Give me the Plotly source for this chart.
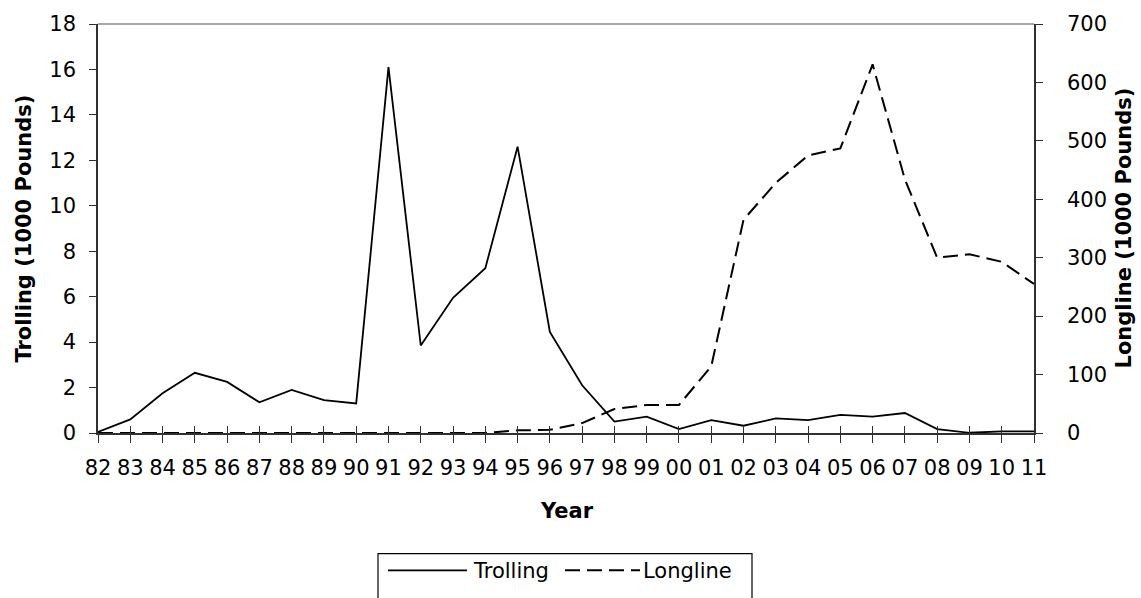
import plotly.graph_objects as go

# category labels (fishing years 1982-2011)
years = ['82', '83', '84', '85', '86', '87', '88', '89', '90', '91',
         '92', '93', '94', '95', '96', '97', '98', '99', '00', '01',
         '02', '03', '04', '05', '06', '07', '08', '09', '10', '11']

# 1000 pounds, left axis
trolling = [0.05, 0.6, 1.75, 2.65, 2.25, 1.35, 1.9, 1.45, 1.3, 16.1,
            3.85, 5.95, 7.25, 12.6, 4.45, 2.1, 0.5, 0.72, 0.17, 0.57,
            0.32, 0.64, 0.57, 0.8, 0.72, 0.88, 0.17, 0.01, 0.07, 0.07]

# 1000 pounds, right axis
longline = [0, 0, 0, 0, 0, 0, 0, 0, 0, 0,
            0, 0, 0, 4.5, 5.5, 17, 41, 48, 48, 114,
            365, 428, 475, 487, 631, 434, 300, 306, 293, 255]

xi = list(range(len(years)))
FONT = "DejaVu Sans, Liberation Sans, Arial, sans-serif"
FS = 21
AX = "#303030"

fig = go.Figure()
fig.add_trace(go.Scatter(x=xi, y=longline, mode="lines", name="Longline",
                         line=dict(color="black", width=2, dash="15px,7px"),
                         yaxis="y2"))
fig.add_trace(go.Scatter(x=xi, y=trolling, mode="lines", name="Trolling",
                         line=dict(color="black", width=1.8)))

# plot area in pixels: x 98..1034, y 19..433
L, R, T, B = 98, 1034, 19, 433
W, H = R - L, B - T
def px(x):
    return (x - L) / W
def py(y):
    return (B - y) / H

fig.update_layout(
    width=1141, height=598,
    margin=dict(l=L, r=1141 - R, t=T, b=598 - B),
    paper_bgcolor="white", plot_bgcolor="white",
    font=dict(family=FONT, size=FS, color="black"),
    showlegend=False,
    xaxis=dict(range=[0, len(years) - 1], tickvals=xi, ticktext=years,
               showgrid=False, zeroline=False, showline=True, linecolor=AX,
               linewidth=1.5, ticks="outside", ticklen=8, tickcolor=AX,
               tickwidth=1, ticklabelstandoff=7),
    xaxis2=dict(range=[0, len(years) - 1], tickvals=xi, overlaying="x",
                showticklabels=False, showgrid=False, zeroline=False,
                ticks="inside", ticklen=7, tickcolor=AX, tickwidth=1,
                anchor="y", side="bottom"),
    yaxis=dict(range=[0, 18], dtick=2, showgrid=False, zeroline=False,
               showline=True, linecolor=AX, linewidth=1.5, ticks="outside",
               ticklen=7, tickcolor=AX, ticklabelstandoff=9),
    yaxis2=dict(range=[0, 700], dtick=100, overlaying="y", side="right",
                showgrid=False, zeroline=False, showline=True, linecolor=AX,
                linewidth=1.5, ticks="outside", ticklen=7, tickcolor=AX,
                ticklabelstandoff=20),
)

# invisible trace so the crossing-tick overlay axis gets drawn
fig.add_trace(go.Scatter(x=[0], y=[0], xaxis="x2", mode="markers",
                         marker=dict(opacity=0), hoverinfo="skip"))

shapes = [
    # top border of plot area
    dict(type="line", xref="paper", yref="paper", x0=0, x1=1, y0=1, y1=1,
         line=dict(color="#8a8a8a", width=1.5)),
    # legend box
    dict(type="rect", xref="paper", yref="paper", x0=px(378), x1=px(752),
         y0=py(555), y1=py(620), line=dict(color="black", width=1.2),
         fillcolor="white"),
    dict(type="line", xref="paper", yref="paper", x0=px(388), x1=px(467),
         y0=py(572), y1=py(572), line=dict(color="black", width=1.8)),
    dict(type="line", xref="paper", yref="paper", x0=px(565), x1=px(640),
         y0=py(572), y1=py(572),
         line=dict(color="black", width=2, dash="15px,7px")),
]

def note(text, x, y, angle=0, xanchor="center"):
    return dict(text=text, xref="paper", yref="paper", x=px(x), y=py(y),
                xanchor=xanchor, yanchor="middle", textangle=angle,
                showarrow=False, font=dict(size=FS))

annotations = [
    note("<b>Trolling (1000 Pounds)</b>", 23, 226, -90),
    note("<b>Longline (1000 Pounds)</b>", 1123, 226, -90),
    note("<b>Year</b>", 567, 512),
    note("Trolling", 471, 573, xanchor="left"),
    note("Longline", 641, 573, xanchor="left"),
]

fig.update_layout(shapes=shapes, annotations=annotations)

fig.write_html("out.html", config={"displayModeBar": False},
               post_script="document.body.style.margin='0';")
